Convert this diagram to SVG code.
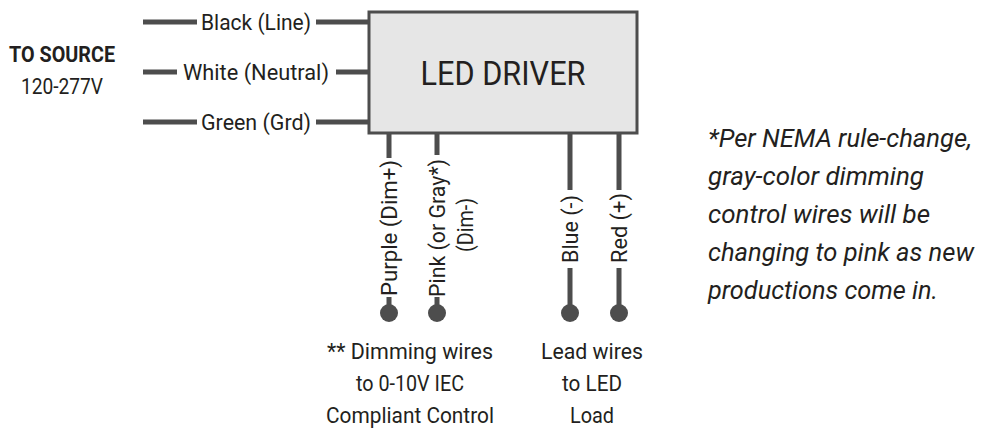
<svg xmlns="http://www.w3.org/2000/svg" width="982" height="438" viewBox="0 0 982 438">
<style>
.w{stroke:#4d4d4d;stroke-width:5;fill:none}
.t{font-family:Roboto,"Liberation Sans",sans-serif;font-size:22px;fill:#231f20}
.dot{fill:#4d4d4d}
</style>
<rect width="982" height="438" fill="#fff"/>
<g id="driver"><rect x="369" y="12" width="268" height="121" fill="#e6e6e6" stroke="#4d4d4d" stroke-width="3"/>
<text x="503" y="85" text-anchor="middle" class="t" style="font-size:33px" textLength="165" lengthAdjust="spacingAndGlyphs">LED DRIVER</text></g>
<g id="source"><text x="62" y="62" text-anchor="middle" class="t" font-weight="bold" textLength="106" lengthAdjust="spacingAndGlyphs">TO SOURCE</text>
<text x="62" y="94" text-anchor="middle" class="t" textLength="82" lengthAdjust="spacingAndGlyphs">120-277V</text></g>
<g id="connectors">
<path class="w" d="M143 22H197M316 22H369M143 72H177M336 72H369M143 122H197M316 122H369"/>
<path class="w" d="M389 133V158M389 297V313M437 133V155M437 297V313M570 133V190M570 268V313M619 133V190M619 268V313"/>
<circle class="dot" cx="389" cy="313" r="9"/><circle class="dot" cx="437" cy="313" r="9"/>
<circle class="dot" cx="570" cy="313" r="9"/><circle class="dot" cx="619" cy="313" r="9"/>
</g>
<g id="labels">
<text x="256" y="30" text-anchor="middle" class="t" textLength="110" lengthAdjust="spacingAndGlyphs">Black (Line)</text>
<text x="256" y="80" text-anchor="middle" class="t" textLength="146" lengthAdjust="spacingAndGlyphs">White (Neutral)</text>
<text x="256" y="130" text-anchor="middle" class="t" textLength="110" lengthAdjust="spacingAndGlyphs">Green (Grd)</text>
<text class="t" text-anchor="middle" transform="translate(397 228) rotate(-90)" textLength="136" lengthAdjust="spacingAndGlyphs">Purple (Dim+)</text>
<text class="t" text-anchor="middle" transform="translate(445 228) rotate(-90)" textLength="138" lengthAdjust="spacingAndGlyphs">Pink (or Gray*)</text>
<text class="t" text-anchor="middle" transform="translate(473 225) rotate(-90)" textLength="54" lengthAdjust="spacingAndGlyphs">(Dim-)</text>
<text class="t" text-anchor="middle" transform="translate(578 229) rotate(-90)" textLength="68" lengthAdjust="spacingAndGlyphs">Blue (-)</text>
<text class="t" text-anchor="middle" transform="translate(627 228) rotate(-90)" textLength="70" lengthAdjust="spacingAndGlyphs">Red (+)</text>
</g>
<g id="notes">
<text x="410" y="359" text-anchor="middle" class="t" textLength="166" lengthAdjust="spacingAndGlyphs">** Dimming wires</text>
<text x="410" y="391" text-anchor="middle" class="t" textLength="108" lengthAdjust="spacingAndGlyphs">to 0-10V IEC</text>
<text x="410" y="423" text-anchor="middle" class="t" textLength="168" lengthAdjust="spacingAndGlyphs">Compliant Control</text>
<text x="592" y="359" text-anchor="middle" class="t" textLength="102" lengthAdjust="spacingAndGlyphs">Lead wires</text>
<text x="592" y="391" text-anchor="middle" class="t" textLength="60" lengthAdjust="spacingAndGlyphs">to LED</text>
<text x="592" y="423" text-anchor="middle" class="t" textLength="44" lengthAdjust="spacingAndGlyphs">Load</text>
</g>
<g id="footnote" class="t" style="font-size:26px;font-style:italic">
<text x="708" y="147" textLength="264" lengthAdjust="spacingAndGlyphs">*Per NEMA rule-change,</text>
<text x="708" y="185" textLength="216" lengthAdjust="spacingAndGlyphs">gray-color dimming</text>
<text x="708" y="223" textLength="222" lengthAdjust="spacingAndGlyphs">control wires will be</text>
<text x="708" y="261" textLength="266" lengthAdjust="spacingAndGlyphs">changing to pink as new</text>
<text x="708" y="299" textLength="230" lengthAdjust="spacingAndGlyphs">productions come in.</text>
</g>
</svg>
